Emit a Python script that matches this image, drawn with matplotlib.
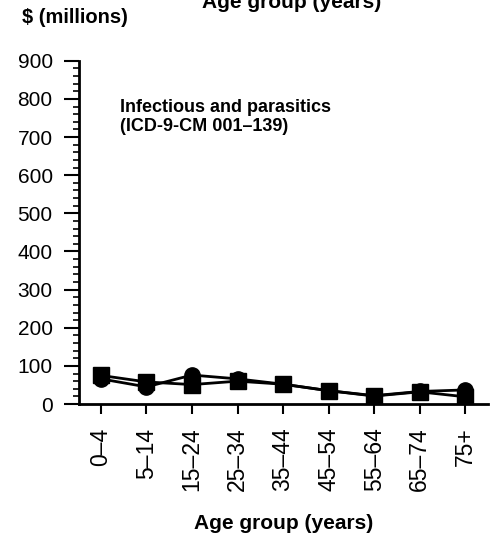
import matplotlib.pyplot as plt
from matplotlib.ticker import MultipleLocator

plt.rcParams['font.family'] = ['Liberation Sans', 'DejaVu Sans']

age_groups = ["0–4", "5–14", "15–24", "25–34", "35–44", "45–54", "55–64", "65–74", "75+"]
circle_values = [66, 45, 76, 66, 52, 35, 22, 33, 37]
square_values = [75, 58, 51, 60, 52, 35, 21, 32, 19]

fig = plt.figure(figsize=(4.97, 5.38), dpi=100)
ax = fig.add_axes([0.159, 0.249, 0.823, 0.638])

x = list(range(len(age_groups)))
ax.plot(x, circle_values, color="black", lw=2, marker="o", markersize=11)
ax.plot(x, square_values, color="black", lw=2, marker="s", markersize=11)

ax.set_xlim(-0.48, 8.5)
ax.set_ylim(0, 900)
ax.yaxis.set_major_locator(MultipleLocator(100))
ax.yaxis.set_minor_locator(MultipleLocator(20))
ax.set_xticks(x)
ax.set_xticklabels(age_groups, rotation=90, fontsize=16.5)
ax.tick_params(axis="y", labelsize=15, length=11, width=1.5, pad=8)
ax.tick_params(axis="y", which="minor", length=4, width=1.2)
ax.tick_params(axis="x", length=7, width=1.5, pad=10)

for side in ["top", "right"]:
    ax.spines[side].set_visible(False)
for side in ["left", "bottom"]:
    ax.spines[side].set_linewidth(2)

ax.set_xlabel("Age group (years)", fontsize=15, fontweight="bold", labelpad=16)
ax.text(0.10, 0.89, "Infectious and parasitics\n(ICD-9-CM 001–139)", transform=ax.transAxes,
        fontsize=13, fontweight="bold", va="top", linespacing=1.15)

fig.text(0.044, 0.968, "$ (millions)", fontsize=14.5, fontweight="bold", va="center")
fig.text(0.586, 0.985, "Age group (years)", fontsize=15, fontweight="bold", ha="center")

fig.savefig("out.png", dpi=100)
